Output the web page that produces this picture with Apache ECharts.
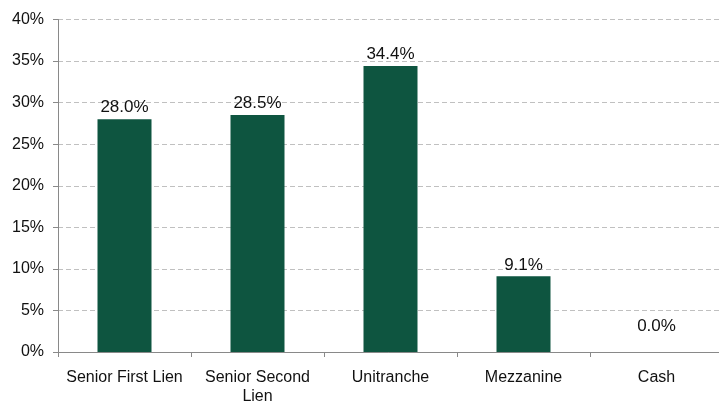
<!DOCTYPE html>
<html><head><meta charset="utf-8">
<script src="https://cdn.jsdelivr.net/npm/echarts@6/dist/echarts.min.js"></script>
<style>html,body{margin:0;padding:0;background:#fff}#c{width:719px;height:403px}</style>
</head><body><div id="c"></div>
<script>
const categories = ['Senior First Lien', 'Senior Second\nLien', 'Unitranche', 'Mezzanine', 'Cash'];
const values = [28.0, 28.5, 34.4, 9.1, 0.0];
const yTicks = [0, 5, 10, 15, 20, 25, 30, 35, 40];

const chart = echarts.init(document.getElementById('c'), null, {renderer: 'canvas'});
chart.setOption({
  animation: false,
  grid: {left: 58, right: -4, top: 19.5, bottom: 51, containLabel: false, outerBoundsMode: 'none'},
  xAxis: {
    type: 'category', data: categories,
    axisLine: {lineStyle: {color: '#898989', width: 1}},
    axisTick: {show: true, length: 5, lineStyle: {color: '#898989'}},
    axisLabel: {color: '#111', fontSize: 16, fontFamily: 'Liberation Sans, Arial', margin: 16, lineHeight: 19, interval: 0}
  },
  yAxis: {
    type: 'value', min: yTicks[0], max: yTicks[yTicks.length - 1], interval: 5,
    axisLine: {show: true, lineStyle: {color: '#898989'}},
    axisTick: {show: true, length: 5, lineStyle: {color: '#898989'}},
    axisLabel: {color: '#111', fontSize: 16, fontFamily: 'Liberation Sans, Arial', margin: 14, formatter: v => v + '%'},
    splitLine: {lineStyle: {color: '#c0c0c0', type: [5, 3], width: 1}}
  },
  series: [{
    type: 'bar', barWidth: 54,
    data: values.map((v, i) => v === 0 ? {value: v, label: {distance: 17}} : v),
    itemStyle: {color: '#0e5540'},
    label: {show: true, position: 'top', distance: 3, color: '#111', fontSize: 17, fontFamily: 'Liberation Sans, Arial', formatter: p => p.value.toFixed(1) + '%'}
  }]
});
</script></body></html>
